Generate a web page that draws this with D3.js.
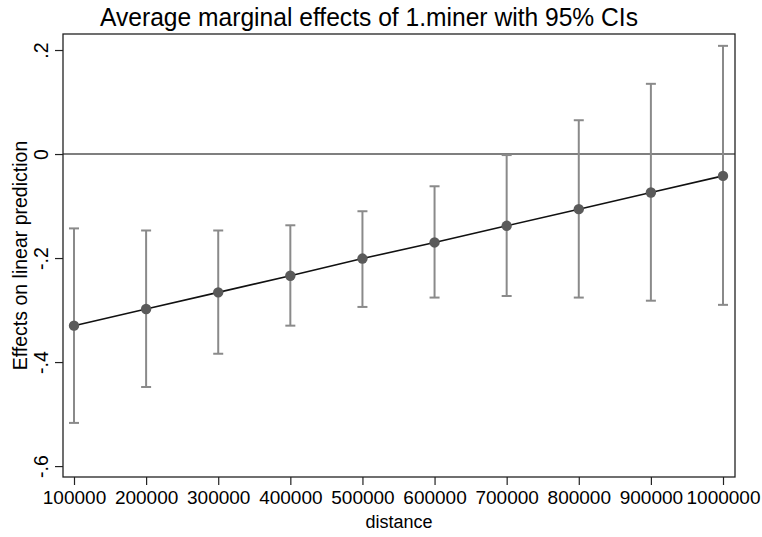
<!DOCTYPE html>
<html>
<head>
<meta charset="utf-8">
<script src="https://cdn.jsdelivr.net/npm/d3@7"></script>
<style>
  html, body { margin: 0; padding: 0; background: #fff; overflow: hidden; }
  svg { display: block; }
  text { font-family: Arial, "Liberation Sans", sans-serif; }
</style>
</head>
<body>
<svg id="chart" width="762" height="537"></svg>
<script>
// ---- data ----
const distances = [100000, 200000, 300000, 400000, 500000, 600000, 700000, 800000, 900000, 1000000];
const effects   = [-0.330, -0.298, -0.266, -0.234, -0.201, -0.170, -0.138, -0.106, -0.074, -0.042];
const ciLower   = [-0.517, -0.448, -0.384, -0.330, -0.294, -0.276, -0.273, -0.276, -0.282, -0.290];
const ciUpper   = [-0.143, -0.147, -0.147, -0.137, -0.110, -0.062, -0.002, 0.065, 0.135, 0.208];
const yTickValues = [0.2, 0, -0.2, -0.4, -0.6];
const yTickLabels = [".2", "0", "-.2", "-.4", "-.6"];
const xTickValues = distances;
const titleText = "Average marginal effects of 1.miner with 95% CIs";
const xTitle = "distance";
const yTitle = "Effects on linear prediction";

// ---- layout ----
const svg = d3.select("#chart");
const plot = { left: 63, right: 735, top: 34, bottom: 477 };

const x = d3.scaleLinear().domain([84745, 1016640]).range([plot.left, plot.right]);
const y = d3.scaleLinear().domain([-0.621, 0.2308]).range([plot.bottom, plot.top]);

// title
svg.append("text")
  .attr("x", 369).attr("y", 26)
  .attr("text-anchor", "middle")
  .attr("font-size", 25)
  .attr("textLength", 538)
  .attr("lengthAdjust", "spacingAndGlyphs")
  .attr("fill", "#000")
  .text(titleText);

// zero reference line
svg.append("line")
  .attr("x1", plot.left).attr("x2", plot.right)
  .attr("y1", y(0)).attr("y2", y(0))
  .attr("stroke", "#555").attr("stroke-width", 1.4);

// error bars
const capHalf = 5;
const eb = svg.append("g").attr("stroke", "#8a8a8a").attr("stroke-width", 2).attr("fill", "none");
distances.forEach((d, i) => {
  eb.append("line")
    .attr("x1", x(d)).attr("x2", x(d))
    .attr("y1", y(ciLower[i])).attr("y2", y(ciUpper[i]));
  eb.append("line")
    .attr("x1", x(d) - capHalf).attr("x2", x(d) + capHalf)
    .attr("y1", y(ciLower[i])).attr("y2", y(ciLower[i]));
  eb.append("line")
    .attr("x1", x(d) - capHalf).attr("x2", x(d) + capHalf)
    .attr("y1", y(ciUpper[i])).attr("y2", y(ciUpper[i]));
});

// connecting line
const lineGen = d3.line().x((d, i) => x(distances[i])).y(d => y(d));
svg.append("path")
  .datum(effects)
  .attr("d", lineGen)
  .attr("fill", "none")
  .attr("stroke", "#111")
  .attr("stroke-width", 1.6);

// points
svg.append("g").selectAll("circle")
  .data(effects)
  .join("circle")
  .attr("cx", (d, i) => x(distances[i]))
  .attr("cy", d => y(d))
  .attr("r", 5.2)
  .attr("fill", "#5a5a5a");

// frame
svg.append("rect")
  .attr("x", plot.left).attr("y", plot.top)
  .attr("width", plot.right - plot.left).attr("height", plot.bottom - plot.top)
  .attr("fill", "none").attr("stroke", "#222").attr("stroke-width", 1.3);

// y axis
const yAxis = d3.axisLeft(y)
  .tickValues(yTickValues)
  .tickFormat((d, i) => yTickLabels[i])
  .tickSize(8)
  .tickSizeOuter(0);
const gy = svg.append("g").attr("transform", `translate(${plot.left},0)`).call(yAxis);
gy.select(".domain").remove();
gy.selectAll(".tick line").attr("stroke", "#222").attr("stroke-width", 1.2);
gy.selectAll(".tick text")
  .attr("transform", "rotate(-90)")
  .attr("x", 0).attr("y", -15).attr("dy", 0)
  .attr("text-anchor", "middle")
  .attr("font-size", 19.5)
  .attr("fill", "#000");

// x axis
const xAxis = d3.axisBottom(x)
  .tickValues(xTickValues)
  .tickFormat(d3.format("d"))
  .tickSize(8)
  .tickSizeOuter(0);
const gx = svg.append("g").attr("transform", `translate(0,${plot.bottom})`).call(xAxis);
gx.select(".domain").remove();
gx.selectAll(".tick line").attr("stroke", "#222").attr("stroke-width", 1.2);
gx.selectAll(".tick text")
  .attr("y", 27).attr("dy", 0)
  .attr("font-size", 19)
  .attr("fill", "#000");

// axis titles
svg.append("text")
  .attr("x", (plot.left + plot.right) / 2).attr("y", 528)
  .attr("text-anchor", "middle")
  .attr("font-size", 18)
  .attr("fill", "#000")
  .text(xTitle);

svg.append("text")
  .attr("transform", `translate(27,${(plot.top + plot.bottom) / 2}) rotate(-90)`)
  .attr("text-anchor", "middle")
  .attr("font-size", 19.5)
  .attr("fill", "#000")
  .text(yTitle);
</script>
</body>
</html>
